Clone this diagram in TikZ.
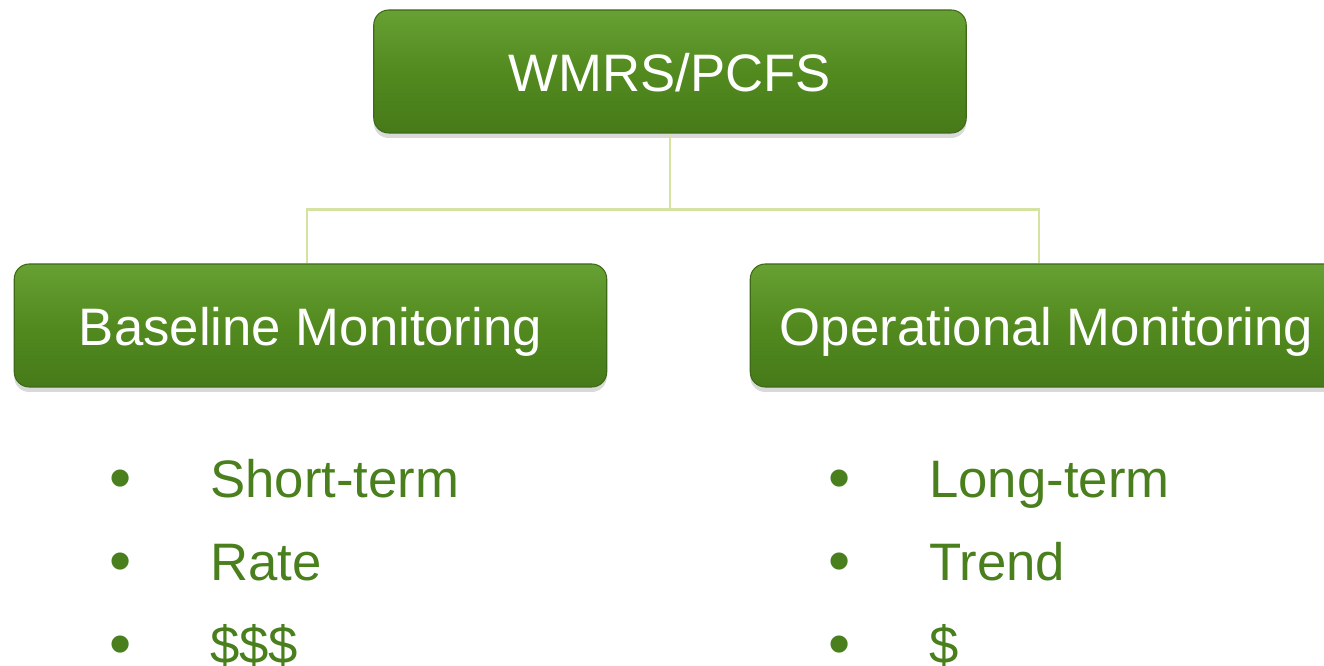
\documentclass[tikz,border=0pt]{standalone}
\usepackage{fontspec}
\setmainfont{Liberation Sans}
\usepackage{xcolor}
\usetikzlibrary{shapes,arrows,positioning,shadows}

\definecolor{leaf}{HTML}{528A1F}
\definecolor{leaftop}{HTML}{67A033}
\definecolor{leafdark}{HTML}{467A19}
\definecolor{leafedge}{HTML}{3E6A17}
\definecolor{twig}{HTML}{D5E3A2}
\definecolor{itemgreen}{HTML}{4A7F1E}

\tikzstyle{box} = [rectangle, rounded corners=0.3cm, minimum width=11.85cm, minimum height=2.46cm,
    top color=leaftop, bottom color=leafdark, middle color=leaf, draw=leafedge, line width=0.6pt,
    drop shadow={opacity=0.3, shadow xshift=0cm, shadow yshift=-0.1cm},
    text=white, text height=0.82cm, text depth=0cm, font=\fontsize{30}{36}\selectfont]
\tikzstyle{line} = [draw=twig, line width=1.2pt]
\tikzstyle{dot} = [anchor=base, text=itemgreen, font=\fontsize{36}{40}\selectfont, inner sep=0pt]
\tikzstyle{item} = [anchor=base west, text=itemgreen, font=\fontsize{30}{36}\selectfont, inner sep=0pt]

\begin{document}
\begin{tikzpicture}[node distance = 1.66cm, auto]
    \useasboundingbox (0,0) rectangle (26.48,13.32);
    \clip (0,0) rectangle (26.48,13.32);

    % Place nodes
    \node [box] (wmrs) at (13.40,11.89) {WMRS/PCFS};
    \node [box] (base) at (6.21,6.81) {Baseline Monitoring};
    \node [box] (oper) at (20.93,6.81) {Operational Monitoring};

    % tree lines
    \coordinate (split) at (13.40,9.13);
    \path [line] (wmrs) -- (split);
    \path [line] (split) -| ([xshift=-0.07cm]base.north);
    \path [line] (split) -| ([xshift=-0.15cm]oper.north);

    % bullet lists
    \foreach \name/\txt [count=\i] in {bs/Short-term, br/Rate, bd/\$\$\$} {
        \node [dot] (\name dot) at (2.42,{3.33-1.66*(\i-1)}) {•};
        \node [item] (\name) at (4.20,{3.36-1.66*(\i-1)}) {\txt};
    }
    \foreach \name/\txt [count=\i] in {ol/Long-term, ot/Trend, od/\$} {
        \node [dot] (\name dot) at (16.80,{3.33-1.66*(\i-1)}) {•};
        \node [item] (\name) at (18.58,{3.36-1.66*(\i-1)}) {\txt};
    }

\end{tikzpicture}
\end{document}
